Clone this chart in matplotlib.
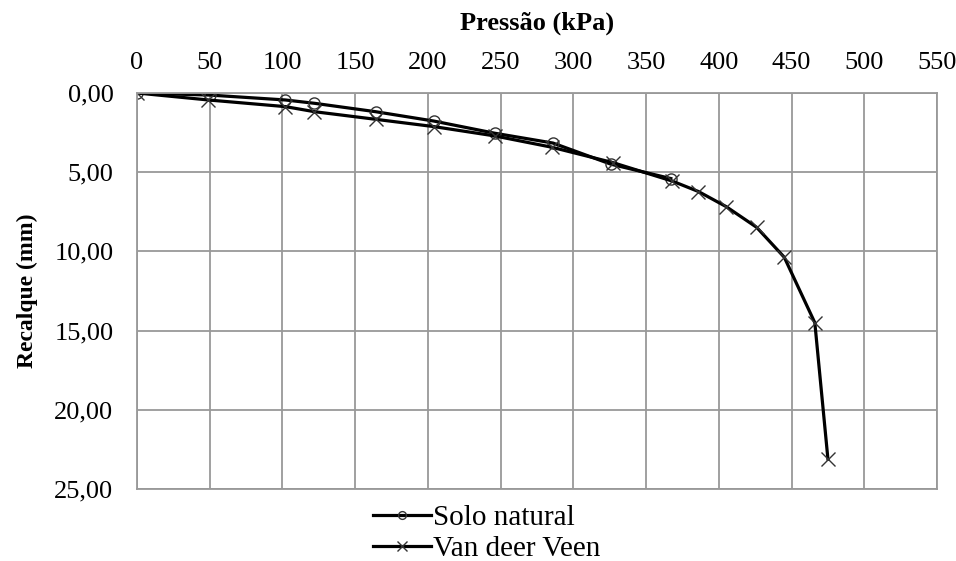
import matplotlib
matplotlib.use("Agg")
import matplotlib.pyplot as plt
from matplotlib.ticker import FuncFormatter

# Solo natural (pressure kPa, settlement mm)
solo_p = [0, 50, 102, 122, 164, 204, 246, 286, 326, 367]
solo_r = [0.00, 0.13, 0.44, 0.65, 1.18, 1.77, 2.54, 3.16, 4.50, 5.40]

# Van deer Veen
veen_p = [0, 49, 102, 122, 164, 204, 246, 285, 327, 368, 386, 405, 426, 445, 466, 475]
veen_r = [0.00, 0.44, 0.86, 1.18, 1.66, 2.12, 2.71, 3.42, 4.39, 5.56, 6.22, 7.17, 8.48, 10.37, 14.5, 23.1]

x_ticks = list(range(0, 551, 50))
y_ticks = [0, 5, 10, 15, 20, 25]

plt.rcParams['font.family'] = ['Liberation Serif', 'DejaVu Serif']

fig = plt.figure(figsize=(9.56, 5.61), dpi=100)
ax = fig.add_axes([137/956, 1 - 489/561, 800/956, 396/561])

ax.plot(solo_p, solo_r, color="black", lw=2.3, marker="o", ms=8,
        mfc="none", mec="#333333", mew=1.0, label="Solo natural")
ax.plot(veen_p, veen_r, color="black", lw=2.3, marker="x", ms=10,
        mec="#333333", mew=1.0, label="Van deer Veen")

ax.set_xlim(0, 550)
ax.set_ylim(25, 0)
ax.set_xticks(x_ticks)
ax.set_yticks(y_ticks)
ax.yaxis.set_major_formatter(FuncFormatter(lambda v, p: ("%.2f" % v).replace(".", ",")))
ax.xaxis.tick_top()
ax.xaxis.set_label_position("top")
ax.tick_params(length=0, labelsize=19)
ax.tick_params(axis="x", pad=14)
ax.tick_params(axis="y", pad=17)
ax.grid(True, color="#999999", lw=1.3)
for s in ax.spines.values():
    s.set_color("#999999")
    s.set_linewidth(1.3)

ax.set_xlabel("Pressão (kPa)", fontsize=19, fontweight="bold", labelpad=16)
ax.set_ylabel("Recalque (mm)", fontsize=17, fontweight="bold", labelpad=12)

ax.legend(loc="upper center", bbox_to_anchor=(0.437, -0.01), frameon=False,
          fontsize=21, handlelength=2.0, handletextpad=0.05, labelspacing=0.15,
          borderaxespad=0, markerscale=0.7)

fig.savefig("out.png", dpi=100)
